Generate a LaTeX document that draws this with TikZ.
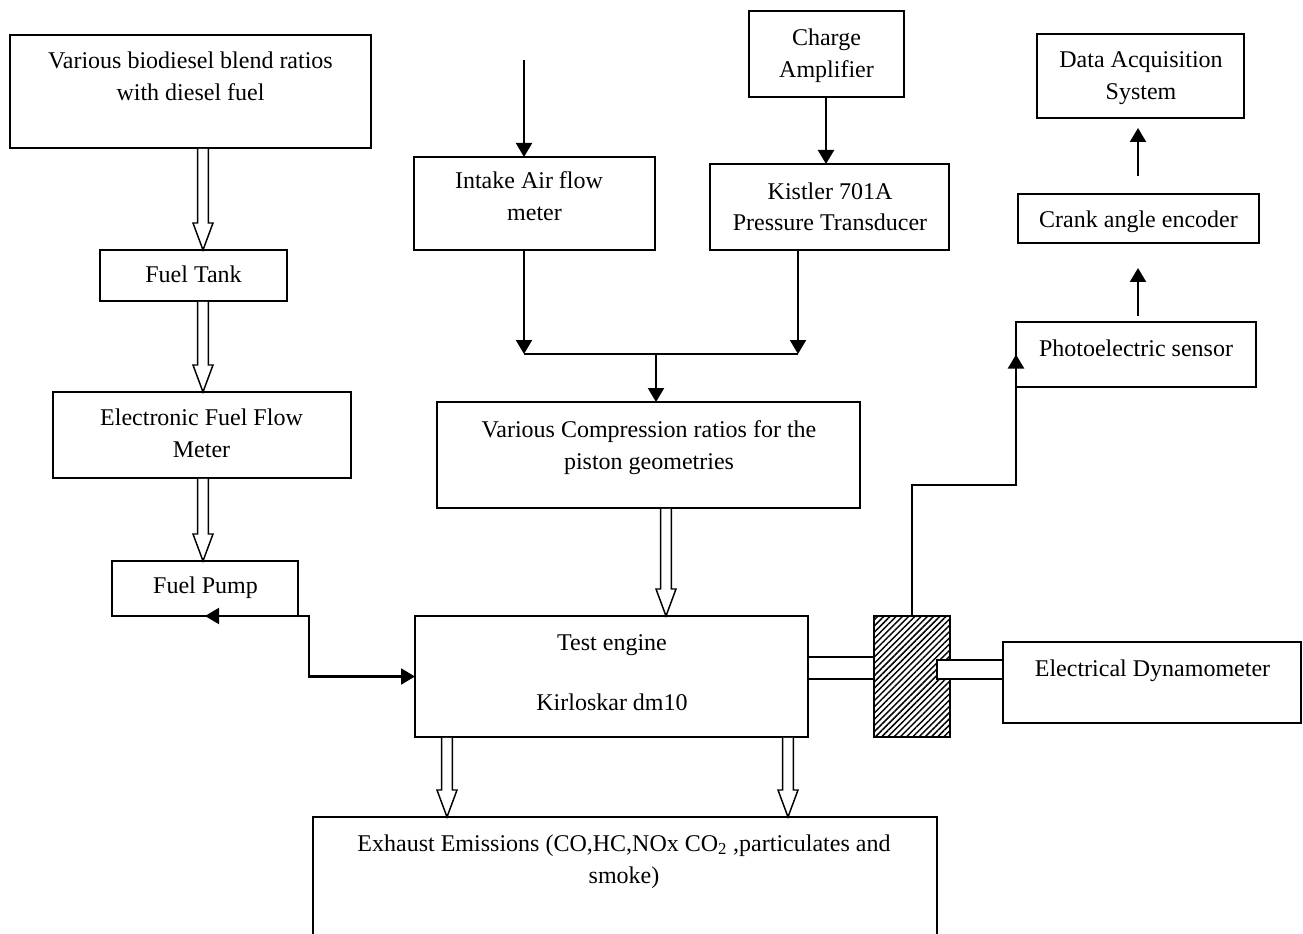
\documentclass[tikz,border=0pt]{standalone}
\usepackage{fontspec}
\setmainfont{Liberation Serif}
\usetikzlibrary{arrows.meta,patterns.meta,calc}
\tikzset{
  box/.style={draw, line width=1.1pt, inner sep=0pt, outer sep=0pt},
  txt/.style={inner sep=0pt, outer sep=0pt, anchor=base, font=\fontsize{18}{24}\selectfont},
  arr/.style={line width=1.6pt, -{Triangle[length=10.5pt,width=12pt]}},
  twoarr/.style={line width=1.6pt, {Triangle[length=10.5pt,width=12pt]}-{Triangle[length=10.5pt,width=12pt]}},
  ln/.style={line width=1.6pt},
  harrow/.style={draw, fill=white, line width=1.1pt, line join=miter},
  hatching/.style={pattern={Lines[angle=45,distance=3.3pt,line width=1.1pt]}},
}
\newcommand\mkbox[6][]{\node[box,#1, minimum width={(#5-#3)*0.75pt}, minimum height={(#6-#4)*0.75pt}] (#2) at ({(#3+#5)/2},{(#4+#6)/2}) {};}
\newcommand\harr[3]{\path[harrow] let \p1=(#2.south), \p2=(#3.north) in
  ({#1*0.75pt-4.1pt},{\y1-0.6pt}) -- ({#1*0.75pt-4.1pt},{\y2+20.25pt}) -- ({#1*0.75pt-7.5pt},{\y2+20.25pt}) -- ({#1*0.75pt},\y2)
  -- ({#1*0.75pt+7.5pt},{\y2+20.25pt}) -- ({#1*0.75pt+4.1pt},{\y2+20.25pt}) -- ({#1*0.75pt+4.1pt},{\y1-0.6pt});}
\begin{document}
\begin{tikzpicture}[x=0.75pt,y=-0.75pt]
\useasboundingbox (0,0) rectangle (1303,934);
\clip (0,0) rectangle (1303,934);

% boxes
\mkbox{blend}{10}{35}{371}{148}
\mkbox{tank}{100}{250}{287}{301}
\mkbox{effm}{53}{392}{351}{478}
\mkbox{pump}{112}{561}{298}{616}
\mkbox{intake}{414}{157}{655}{250}
\mkbox{charge}{749}{11}{904}{97}
\mkbox{kistler}{710}{164}{949}{250}
\mkbox{daq}{1037}{34}{1244}{118}
\mkbox{crank}{1018}{194}{1259}{243}
\mkbox{photo}{1016}{322}{1256}{387}
\mkbox{comp}{437}{402}{860}{508}
\mkbox{engine}{415}{616}{808}{737}
\mkbox{lshaft}{808}{657}{874}{679}
\mkbox[hatching]{hatch}{874}{616}{950}{737}
\mkbox[fill=white]{rshaft}{937}{660}{1003}{679}
\mkbox{dyn}{1003}{642}{1301}{723}
\mkbox{exhaust}{313}{817}{937}{960}

% texts
\node[txt] (blend1) at (190.5,69) {Various biodiesel blend ratios};
\node[txt] (blend2) at (190.5,101) {with diesel fuel};
\node[txt] (tank1) at (193.5,283) {Fuel Tank};
\node[txt] (effm1) at (201.5,425) {Electronic Fuel Flow};
\node[txt] (effm2) at (201.5,457) {Meter};
\node[txt] (pump1) at (205.5,593) {Fuel Pump};
\node[txt] (intake1) at (529,189) {Intake Air flow};
\node[txt] (intake2) at (534.5,221) {meter};
\node[txt] (charge1) at (826.5,46) {Charge};
\node[txt] (charge2) at (826.5,78) {Amplifier};
\node[txt] (kistler1) at (830,200) {Kistler 701A};
\node[txt] (kistler2) at (830,231) {Pressure Transducer};
\node[txt] (daq1) at (1141,68) {Data Acquisition};
\node[txt] (daq2) at (1141,100) {System};
\node[txt] (crank1) at (1138.5,228) {Crank angle encoder};
\node[txt] (photo1) at (1136,356) {Photoelectric sensor};
\node[txt] (comp1) at (649,437) {Various Compression ratios for the};
\node[txt] (comp2) at (649,469) {piston geometries};
\node[txt] (engine1) at (612,650) {Test engine};
\node[txt] (engine2) at (612,710) {Kirloskar dm10};
\node[txt] (dyn1) at (1152.5,676) {Electrical Dynamometer};
\node[txt] (exh1) at (624,851) {Exhaust Emissions (CO,HC,NOx CO\textsubscript{2} ,particulates and};
\node[txt] (exh2) at (624,883) {smoke)};

% hollow arrows
\harr{203}{blend}{tank}
\harr{203}{tank}{effm}
\harr{203}{effm}{pump}
\harr{666}{comp}{engine}
\harr{447}{engine}{exhaust}
\harr{788}{engine}{exhaust}

% thin arrows
\coordinate (inlet) at (524,60);
\draw[arr] (inlet) -- (inlet |- intake.north);
\draw[arr] (826,0 |- charge.south) -- (826,0 |- kistler.north);
\coordinate (jl) at (524,354);
\coordinate (jr) at (798,354);
\coordinate (jm) at (656,354);
\draw[arr] (524,0 |- intake.south) -- (jl);
\draw[arr] (798,0 |- kistler.south) -- (jr);
\draw[ln] (jl) -- (jr);
\draw[arr] (jm) -- (jm |- comp.north);
\draw[twoarr] (pump.south) -- ++(104,0) |- (engine.west);
\draw[arr] (hatch.north) -- ++(0,-131) -| (photo.west);
\draw[arr, shorten <=4.5pt, shorten >=18.75pt] (1138,0 |- photo.north) -- (1138,0 |- crank.south);
\draw[arr, shorten <=13.5pt, shorten >=7.5pt] (1138,0 |- crank.north) -- (1138,0 |- daq.south);
\end{tikzpicture}
\end{document}
